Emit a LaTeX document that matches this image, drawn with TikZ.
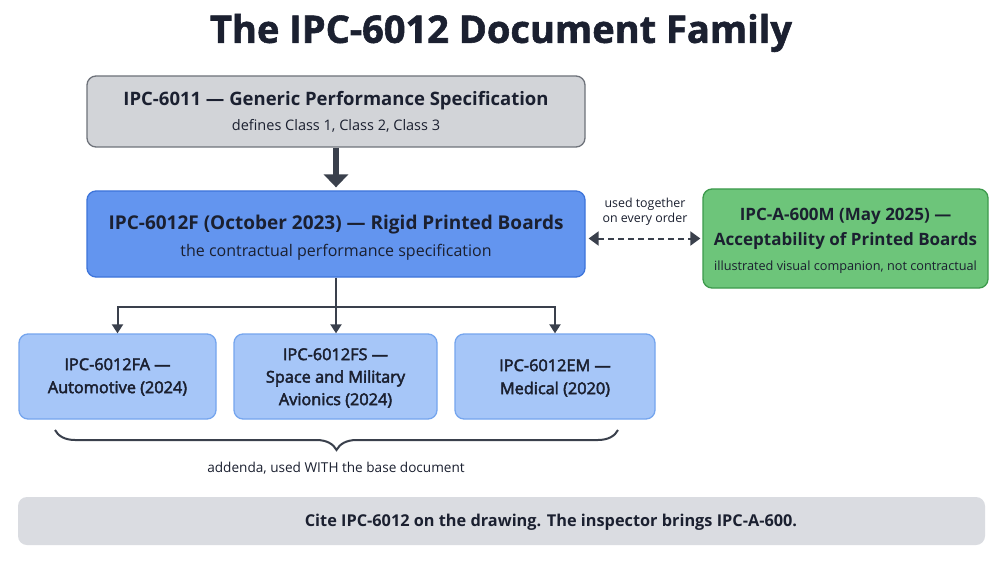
\documentclass[tikz,border=0pt]{standalone}
\usepackage{fontspec}
\setmainfont{Open Sans}
\newfontfamily\heavy[FakeBold=1.5]{Open Sans Bold}
\usetikzlibrary{arrows.meta,decorations.pathreplacing}
\definecolor{ink}{HTML}{1B2030}
\definecolor{arrowc}{HTML}{3A404C}
\definecolor{grayfill}{HTML}{D2D4D8}
\definecolor{grayline}{HTML}{6E727A}
\definecolor{bluefill}{HTML}{6395EF}
\definecolor{blueline}{HTML}{3D74DA}
\definecolor{lbfill}{HTML}{A6C6F8}
\definecolor{lbline}{HTML}{75A5EE}
\definecolor{greenfill}{HTML}{6DC57A}
\definecolor{greenline}{HTML}{3D9A4C}
\definecolor{barfill}{HTML}{DADCE1}
\tikzset{
  boxbase/.style={rectangle, rounded corners=9pt, line width=1.3pt, inner sep=0pt},
  graybox/.style={boxbase, draw=grayline, fill=grayfill},
  bluebox/.style={boxbase, draw=blueline, fill=bluefill},
  lbbox/.style={boxbase, draw=lbline, fill=lbfill, minimum width=0pt},
  greenbox/.style={boxbase, draw=greenline, fill=greenfill},
  txt/.style={text=ink, align=center, inner sep=0pt},
  semi/.style={execute at begin node={\special{pdf:literal direct 2 Tr 0.45 w}},
               execute at end node={\special{pdf:literal direct 0 Tr}}},
  conn/.style={draw=arrowc, line width=2pt},
}
\begin{document}
\begin{tikzpicture}[x=1pt,y=-1pt]
\useasboundingbox[fill=white] (0,0) rectangle (1003,564);

\node[txt, font=\fontsize{38}{42}\selectfont\heavy] (title) at (501,33) {The IPC-6012 Document Family};

\node[graybox, minimum width=498pt, minimum height=71pt] (box1) at (336,111.5) {};
\node[txt, font=\fontsize{18.5}{20}\selectfont\bfseries] (b1a) at (336,101) {IPC-6011 — Generic Performance Specification};
\node[txt, font=\fontsize{14.5}{16}\selectfont] (b1b) at (336,125.5) {defines Class 1, Class 2, Class 3};

\node[bluebox, minimum width=498pt, minimum height=86pt] (box2) at (336,234) {};
\node[txt, font=\fontsize{19}{20}\selectfont\bfseries] (b2a) at (336,225) {IPC-6012F (October 2023) — Rigid Printed Boards};
\node[txt, font=\fontsize{16}{17}\selectfont] (b2b) at (336,252) {the contractual performance specification};

\node[greenbox, minimum width=285pt, minimum height=99pt] (green) at (845.5,238.5) {};
\node[txt, font=\fontsize{17}{24.5}\selectfont\bfseries] (g1) at (845.5,229) {IPC-A-600M (May 2025) —\\Acceptability of Printed Boards};
\node[txt, font=\fontsize{12.7}{14}\selectfont] (g2) at (845.5,267.5) {illustrated visual companion, not contractual};

\node[lbbox, minimum width=197pt, minimum height=85pt] (fa) at (117.5,376.5) {};
\node[lbbox, minimum width=203pt, minimum height=85pt] (fs) at (335.5,376.5) {};
\node[lbbox, minimum width=200pt, minimum height=85pt] (em) at (555,376.5) {};
\node[txt, semi, font=\fontsize{16.3}{23}\selectfont] (fat) at (117.5,377) {IPC-6012FA —\\Automotive (2024)};
\node[txt, semi, font=\fontsize{16.3}{22.5}\selectfont] (fst) at (335.5,378) {IPC-6012FS —\\Space and Military\\Avionics (2024)};
\node[txt, semi, font=\fontsize{16.3}{23}\selectfont] (emt) at (555,378) {IPC-6012EM —\\Medical (2020)};

\node[rectangle, rounded corners=9pt, fill=barfill, minimum width=967pt, minimum height=48pt] (bar) at (501.5,521) {};
\node[txt, font=\fontsize{16.3}{20}\selectfont\bfseries] (bartext) at (551,522) {Cite IPC-6012 on the drawing. The inspector brings IPC-A-600.};

% arrows
\draw[arrowc, line width=6pt, -{Triangle[length=13pt,width=24pt]}] (box1.south) -- ([yshift=3pt]box2.north);
\draw[arrowc, line width=2pt, dashed, dash pattern=on 6pt off 4pt, {Triangle[length=10pt,width=14pt]}-{Triangle[length=10pt,width=14pt]}, shorten <=3pt, shorten >=2pt] (box2.east |- green.west) -- (green.west);
\node[txt, font=\fontsize{12.4}{14.5}\selectfont] (lab) at (645,212) {used together\\on every order};

\coordinate (junc) at (336,307);
\draw[conn] (box2.south) -- (junc);
\draw[conn, -{Triangle[length=9pt,width=11pt]}] (junc) -| (fa.north);
\draw[conn, -{Triangle[length=9pt,width=11pt]}] (junc) -- (junc |- fs.north);
\draw[conn, -{Triangle[length=9pt,width=11pt]}] (junc) -| (em.north);

\coordinate (bl) at (55,430);
\coordinate (br) at (618,430);
\draw[arrowc, line width=2pt, decorate, decoration={brace, mirror, amplitude=20pt}] (bl) -- (br);
\node[txt, font=\fontsize{13.6}{16}\selectfont] (add) at (336,468) {addenda, used WITH the base document};
\end{tikzpicture}
\end{document}
